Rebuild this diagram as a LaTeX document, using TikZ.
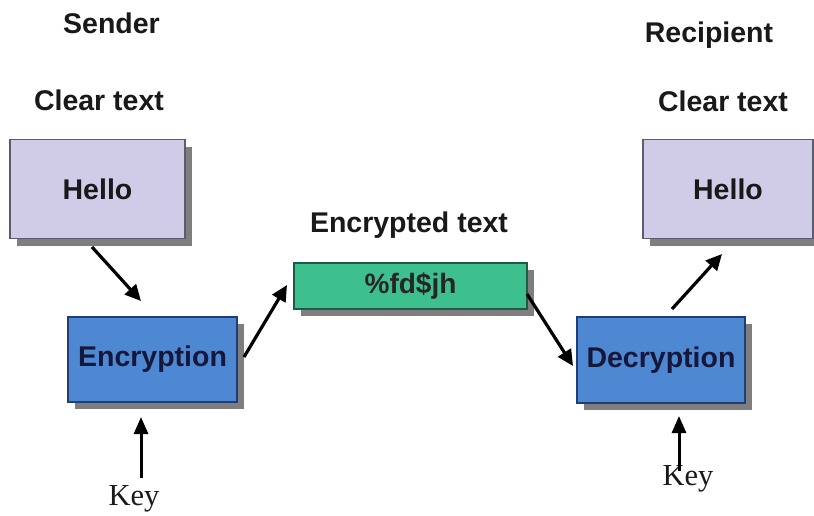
\documentclass[tikz,border=0pt]{standalone}
\usepackage{fontspec}
\setmainfont{Liberation Sans}
\newfontfamily\keyfont{Liberation Serif}
\usetikzlibrary{arrows.meta,shadows}
\definecolor{lav}{HTML}{D0CCE8}
\definecolor{lavborder}{HTML}{5C5C70}
\definecolor{bluebox}{HTML}{4F88D2}
\definecolor{blueborder}{HTML}{1F3D78}
\definecolor{greenbox}{HTML}{3DBF8E}
\definecolor{greenborder}{HTML}{1E5A48}
\definecolor{shadowgray}{HTML}{7E7E7E}
\definecolor{navytext}{HTML}{15183A}
\tikzset{
  shadowed/.style={drop shadow={shadow xshift=7pt,shadow yshift=-7pt,fill=shadowgray,opacity=1}},
  clearbox/.style={draw=lavborder,line width=1.2pt,fill=lav,shadowed,inner sep=0pt,
    font=\fontsize{28.5}{30}\selectfont\bfseries,text=black!90},
  cryptbox/.style={draw=blueborder,line width=1.2pt,fill=bluebox,shadowed,inner sep=0pt,
    font=\fontsize{28.5}{30}\selectfont\bfseries,text=navytext},
  encbox/.style={draw=greenborder,line width=1.2pt,fill=greenbox,shadowed,inner sep=0pt,
    font=\fontsize{28}{30}\selectfont\bfseries,text=black!85},
  heading/.style={anchor=base,inner sep=0pt,font=\fontsize{28.5}{30}\selectfont\bfseries,text=black!90},
  keylabel/.style={anchor=base,inner sep=0pt,font=\keyfont\fontsize{30.5}{32}\selectfont,text=black!90},
  flow/.style={line width=3.2pt,-{Triangle[length=16pt,width=15pt]}},
  keyflow/.style={line width=3pt,-{Triangle[length=17pt,width=14pt]}}
}
\begin{document}
\begin{tikzpicture}[x=1pt,y=-1pt]
\useasboundingbox[fill=white] (0,0) rectangle (814,515);
\begin{scope}
\clip (0,0) rectangle (814,515);
% headings
\node[heading] (sender) at (111.5,33) {Sender};
\node[heading] (clearL) at (99,110) {Clear text};
\node[heading] (recip) at (709,42) {Recipient};
\node[heading] (clearR) at (723,111) {Clear text};
\node[heading] (enctext) at (409,232) {Encrypted text};
% boxes
\node[clearbox,minimum width=175pt,minimum height=99pt] (helloL) at (97.5,189) {Hello};
\node[cryptbox,minimum width=169pt,minimum height=85pt] (encr) at (152.5,359.5) {Encryption};
\node[encbox,minimum width=233pt,minimum height=46pt] (cipher) at (410.5,286) {\%fd\$jh};
\node[clearbox,minimum width=170pt,minimum height=99pt] (helloR) at (728,189) {Hello};
\node[cryptbox,minimum width=168pt,minimum height=86pt] (decr) at (661,360) {Decryption};
% key labels
\node[keylabel] (keyL) at (134,505) {Key};
\node[keylabel] (keyR) at (688,485) {Key};
% arrow end points
\coordinate (a1s) at (92,247);
\coordinate (a1e) at (141,301);
\coordinate (a2s) at (244,357);
\coordinate (a2e) at (287,285);
\coordinate (a3s) at (527,294);
\coordinate (a3e) at (573,366);
\coordinate (a4s) at (672,309);
\coordinate (a4e) at (722,254);
\coordinate (k1s) at (141,478);
\coordinate (k1e) at (141,417);
\coordinate (k2s) at (679,471);
\coordinate (k2e) at (679,416);
\draw[flow] (a1s) -- (a1e);
\draw[flow] (a2s) -- (a2e);
\draw[flow] (a3s) -- (a3e);
\draw[flow] (a4s) -- (a4e);
\draw[keyflow] (k1s) -- (k1e);
\draw[keyflow] (k2s) -- (k2e);
\end{scope}
\end{tikzpicture}
\end{document}
